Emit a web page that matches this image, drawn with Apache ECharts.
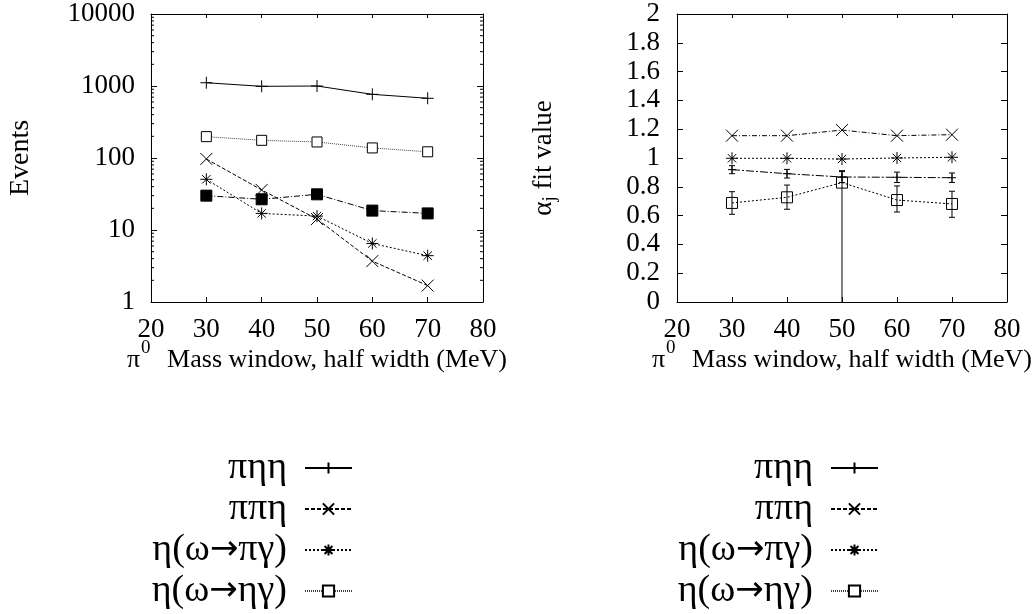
<!DOCTYPE html>
<html>
<head>
<meta charset="utf-8">
<script src="https://cdn.jsdelivr.net/npm/echarts@6/dist/echarts.min.js"></script>
<style>html,body{margin:0;padding:0;background:#fff;}#c{width:1034px;height:614px;}</style>
</head>
<body>
<div id="c"></div>
<script>
// ---- data ----
const massWindow = [30, 40, 50, 60, 70];
const seriesNames = ['πηη', 'ππη', 'η(ω→πγ)', 'η(ω→ηγ)'];
const extraName = 'other';

// Left panel: events (log scale)
const eventsPiEtaEta = [1110, 990, 1000, 766, 675];
const eventsPiPiEta = [97, 36, 14.2, 3.7, 1.69];
const eventsEtaOmPiGam = [50.6, 17, 15.6, 6.5, 4.4];
const eventsEtaOmEtaGam = [198, 176, 167, 138, 122];
const eventsOther = [30, 26.7, 31.3, 18.6, 17];

// Right panel: alpha_j fit values
const alphaPiEtaEta = [0.919, 0.891, 0.868, 0.866, 0.863];
const alphaPiEtaEtaLo = [0.891, 0.861, 0.83, 0.83, 0.83];
const alphaPiEtaEtaHi = [0.947, 0.921, 0.906, 0.902, 0.896];
const alphaPiPiEta = [1.155, 1.155, 1.194, 1.155, 1.162];
const alphaEtaOmPiGam = [0.998, 0.998, 0.993, 1.0, 1.005];
const alphaEtaOmEtaGam = [0.688, 0.727, 0.829, 0.708, 0.681];
const alphaEtaOmEtaGamLo = [0.609, 0.644, -0.5, 0.625, 0.588];
const alphaEtaOmEtaGamHi = [0.766, 0.812, 0.912, 0.806, 0.769];

// ticks
const logTicksMinor = [2,3,4,5,6,7,8,9,20,30,40,50,60,70,80,90,200,300,400,500,600,700,800,900,2000,3000,4000,5000,6000,7000,8000,9000];

// ---- helpers ----
const FONT = 'Liberation Serif';
const BLACK = '#000';
const SYM_PLUS = 'path://M0,5L10,5M5,0L5,10';
const SYM_CROSS = 'path://M0,0L10,10M10,0L0,10';
const SYM_STAR = 'path://M5,0L5,10M0,5L10,5M1.5,1.5L8.5,8.5M8.5,1.5L1.5,8.5';

function pairs(xs, ys) { return xs.map((x, i) => [x, ys[i]]); }
function triples(xs, lo, hi) { return xs.map((x, i) => [x, lo[i], hi[i]]); }

function errRender(params, api) {
  const x = api.value(0), lo = api.value(1), hi = api.value(2);
  const p1 = api.coord([x, hi]);
  const p2 = api.coord([x, lo]);
  const w = 3;
  const st = { stroke: BLACK, lineWidth: 1 };
  return {
    type: 'group',
    children: [
      { type: 'line', shape: { x1: p1[0], y1: p1[1], x2: p2[0], y2: p2[1] }, style: st },
      { type: 'line', shape: { x1: p1[0] - w, y1: p1[1], x2: p1[0] + w, y2: p1[1] }, style: st },
      { type: 'line', shape: { x1: p2[0] - w, y1: p2[1], x2: p2[0] + w, y2: p2[1] }, style: st }
    ]
  };
}

function minorTickRender(params, api) {
  const v = api.value(0);
  const pl = api.coord([20, v]);
  const pr = api.coord([80, v]);
  const st = { stroke: BLACK, lineWidth: 1 };
  return {
    type: 'group',
    children: [
      { type: 'line', shape: { x1: pl[0], y1: pl[1], x2: pl[0] + 3, y2: pl[1] }, style: st },
      { type: 'line', shape: { x1: pr[0], y1: pr[1], x2: pr[0] - 3, y2: pr[1] }, style: st }
    ]
  };
}

function lineSeries(name, data, xi, yi, symbol, size, dash, opts) {
  opts = opts || {};
  return {
    type: 'line', name: name, data: data,
    xAxisIndex: xi, yAxisIndex: yi,
    symbol: symbol, symbolSize: size,
    showAllSymbol: true,
    color: BLACK,
    lineStyle: { color: opts.lineColor || BLACK, width: 1, type: dash },
    itemStyle: { color: opts.fill || BLACK, borderColor: BLACK, borderWidth: 1 },
    emphasis: { disabled: true },
    animation: false,
    z: opts.z || 3
  };
}

const axisLabelStyle = { fontFamily: FONT, fontSize: 27, color: BLACK };
const xName = '{p|π}{s|0}{m| Mass window, half width (MeV)}';
const xNameStyle = {
  fontFamily: FONT, fontSize: 26, color: BLACK,
  rich: {
    p: { fontFamily: FONT, fontSize: 26, color: BLACK },
    s: { fontFamily: FONT, fontSize: 19, color: BLACK, padding: [0, 10, 24, 1] },
    m: { fontFamily: FONT, fontSize: 26, color: BLACK }
  }
};

function xAxes(gi) {
  return [
    {
      gridIndex: gi, type: 'value', min: 20, max: 80, interval: 10, position: 'bottom',
      axisLine: { show: true, lineStyle: { color: BLACK, width: 1 } },
      axisTick: { show: true, inside: true, length: 5, lineStyle: { color: BLACK } },
      axisLabel: Object.assign({ margin: 14 }, axisLabelStyle),
      splitLine: { show: false },
      name: xName, nameLocation: 'middle', nameGap: 37, nameMoveOverlap: false,
      nameTextStyle: xNameStyle
    },
    {
      gridIndex: gi, type: 'value', min: 20, max: 80, interval: 10, position: 'top',
      axisLine: { show: true, onZero: false, lineStyle: { color: BLACK, width: 1 } },
      axisTick: { show: true, inside: true, length: 4, lineStyle: { color: BLACK } },
      axisLabel: { show: false }, splitLine: { show: false }
    }
  ];
}

function legendFmt(name) {
  return name.split('→').map(s => '{t|' + s + '}').join('{a|→}');
}
function legendCfg(rightPx) {
  return {
    data: seriesNames, orient: 'vertical', align: 'right',
    right: rightPx, top: 449, height: 240, padding: 0,
    itemWidth: 47, itemHeight: 14, itemGap: 3,
    selectedMode: false,
    formatter: legendFmt,
    textStyle: {
      fontFamily: FONT, fontSize: 38, color: BLACK, padding: [0, 13, 0, 0],
      rich: {
        t: { fontFamily: FONT, fontSize: 38, color: BLACK },
        a: { fontFamily: 'DejaVu Sans', fontSize: 34, color: BLACK }
      }
    }
  };
}

const option = {
  backgroundColor: '#fff',
  animation: false,
  grid: [
    { left: 151, top: 14, width: 332, height: 288 },
    { left: 677, top: 14, width: 332, height: 288 }
  ],
  xAxis: xAxes(0).concat(xAxes(1)),
  yAxis: [
    {
      gridIndex: 0, type: 'log', logBase: 10, min: 1, max: 10000, position: 'left',
      axisLine: { show: true, lineStyle: { color: BLACK, width: 1 } },
      axisTick: { show: true, inside: true, length: 6, lineStyle: { color: BLACK } },
      axisLabel: Object.assign({ margin: 16, formatter: v => String(Math.round(v)) }, axisLabelStyle),
      splitLine: { show: false },
      name: 'Events', nameLocation: 'middle', nameGap: 116, nameMoveOverlap: false,
      nameTextStyle: { fontFamily: FONT, fontSize: 28, color: BLACK }
    },
    {
      gridIndex: 0, type: 'log', logBase: 10, min: 1, max: 10000, position: 'right',
      axisLine: { show: true, onZero: false, lineStyle: { color: BLACK, width: 1 } },
      axisTick: { show: true, inside: true, length: 6, lineStyle: { color: BLACK } },
      axisLabel: { show: false }, splitLine: { show: false }
    },
    {
      gridIndex: 1, type: 'value', min: 0, max: 2, interval: 0.2, position: 'left',
      axisLine: { show: true, lineStyle: { color: BLACK, width: 1 } },
      axisTick: { show: true, inside: true, length: 6, lineStyle: { color: BLACK } },
      axisLabel: Object.assign({ margin: 17 }, axisLabelStyle),
      splitLine: { show: false },
      name: 'α{j|j} fit value', nameLocation: 'middle', nameGap: 117, nameMoveOverlap: false,
      nameTextStyle: {
        fontFamily: FONT, fontSize: 27, color: BLACK,
        rich: { j: { fontFamily: FONT, fontSize: 19, color: BLACK, padding: [14, 0, 0, 0] } }
      }
    },
    {
      gridIndex: 1, type: 'value', min: 0, max: 2, interval: 0.2, position: 'right',
      axisLine: { show: true, onZero: false, lineStyle: { color: BLACK, width: 1 } },
      axisTick: { show: true, inside: true, length: 6, lineStyle: { color: BLACK } },
      axisLabel: { show: false }, splitLine: { show: false }
    }
  ],
  legend: [legendCfg(1034 - 353), legendCfg(1034 - 879)],
  series: [
    // Left panel
    lineSeries(seriesNames[0], pairs(massWindow, eventsPiEtaEta), 0, 0, SYM_PLUS, 12, 'solid'),
    lineSeries(seriesNames[1], pairs(massWindow, eventsPiPiEta), 0, 0, SYM_CROSS, 12, [4, 2]),
    lineSeries(seriesNames[2], pairs(massWindow, eventsEtaOmPiGam), 0, 0, SYM_STAR, 12, [2, 2]),
    lineSeries(seriesNames[3], pairs(massWindow, eventsEtaOmEtaGam), 0, 0, 'rect', 10, [1, 1], { fill: '#fff', lineColor: '#444' }),
    lineSeries(extraName, pairs(massWindow, eventsOther), 0, 0, 'rect', 11, [6, 2, 1, 2]),
    {
      type: 'custom', name: 'minorTicks', xAxisIndex: 0, yAxisIndex: 0,
      data: logTicksMinor.map(v => [v]), renderItem: minorTickRender,
      encode: { y: 0 }, silent: true, clip: false, animation: false, z: 1
    },
    // Right panel
    {
      type: 'custom', name: 'errA', xAxisIndex: 2, yAxisIndex: 2,
      data: triples(massWindow, alphaPiEtaEtaLo, alphaPiEtaEtaHi),
      renderItem: errRender, encode: { x: 0, y: [1, 2] }, silent: true, clip: true, animation: false, z: 2
    },
    {
      type: 'custom', name: 'errB', xAxisIndex: 2, yAxisIndex: 2,
      data: triples(massWindow, alphaEtaOmEtaGamLo, alphaEtaOmEtaGamHi),
      renderItem: errRender, encode: { x: 0, y: [1, 2] }, silent: true, clip: true, animation: false, z: 2
    },
    lineSeries(seriesNames[0], pairs(massWindow, alphaPiEtaEta), 2, 2, SYM_PLUS, 8, [8, 2, 2, 2]),
    lineSeries(seriesNames[1], pairs(massWindow, alphaPiPiEta), 2, 2, SYM_CROSS, 12, [5, 2, 1, 2]),
    lineSeries(seriesNames[2], pairs(massWindow, alphaEtaOmPiGam), 2, 2, SYM_STAR, 12, [2, 2]),
    lineSeries(seriesNames[3], pairs(massWindow, alphaEtaOmEtaGam), 2, 2, 'rect', 11, [2, 2], { fill: 'rgba(255,255,255,0)' })
  ]
};

const chart = echarts.init(document.getElementById('c'), null, { renderer: 'canvas' });
chart.setOption(option);
</script>
</body>
</html>
